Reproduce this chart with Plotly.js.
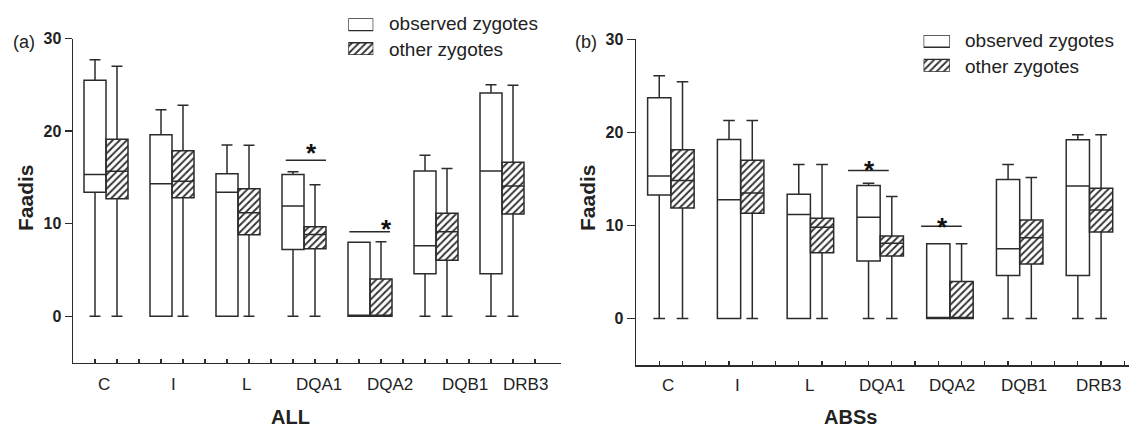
<!DOCTYPE html>
<html>
<head>
<meta charset="utf-8">
<script src="https://cdn.plot.ly/plotly-3.0.1.min.js"></script>
<style>html,body{margin:0;padding:0;background:#fff;}#chart{width:1129px;height:434px;}</style>
</head>
<body>
<div id="chart"></div>
<script>
// ---------- data ----------
const categories = ['C', 'I', 'L', 'DQA1', 'DQA2', 'DQB1', 'DRB3'];
const seriesNames = ['observed zygotes', 'other zygotes'];
const panelTitles = ['ALL', 'ABSs'];
const panelTags = ['(a)', '(b)'];
const yTickVals = [0, 10, 20, 30];

// Panel (a) ALL — observed zygotes
const allObsMin = [0, 0, 0, 0, 0, 0, 0];
const allObsQ1  = [13.4, 0, 0, 7.2, 0, 4.6, 4.6];
const allObsMed = [15.3, 14.3, 13.4, 11.9, 0, 7.6, 15.7];
const allObsQ3  = [25.5, 19.6, 15.4, 15.3, 8.0, 15.7, 24.1];
const allObsMax = [27.7, 22.3, 18.5, 15.6, 8.0, 17.4, 25.0];
// Panel (a) ALL — other zygotes
const allOthMin = [0, 0, 0, 0, 0, 0, 0];
const allOthQ1  = [12.7, 12.8, 8.8, 7.3, 0, 6.05, 11.05];
const allOthMed = [15.65, 14.57, 11.17, 8.84, 0, 9.13, 14.07];
const allOthQ3  = [19.13, 17.87, 13.77, 9.66, 4.02, 11.12, 16.62];
const allOthMax = [27.0, 22.8, 18.48, 14.21, 8.04, 15.96, 24.95];

// Panel (b) ABSs — observed zygotes
const absObsMin = [0, 0, 0, 0, 0, 0, 0];
const absObsQ1  = [13.28, 0, 0, 6.17, 0, 4.63, 4.63];
const absObsMed = [15.32, 12.77, 11.16, 10.87, 0, 7.5, 14.24];
const absObsQ3  = [23.72, 19.23, 13.35, 14.28, 8.04, 14.93, 19.2];
const absObsMax = [26.09, 21.28, 16.54, 14.53, 8.04, 16.54, 19.73];
// Panel (b) ABSs — other zygotes
const absOthMin = [0, 0, 0, 0, 0, 0, 0];
const absOthQ1  = [11.88, 11.3, 7.07, 6.71, 0, 5.85, 9.29];
const absOthMed = [14.82, 13.49, 9.8, 8.07, 0, 8.68, 11.66];
const absOthQ3  = [18.12, 17.0, 10.76, 8.86, 3.98, 10.58, 13.99];
const absOthMax = [25.44, 21.28, 16.54, 13.1, 8.04, 15.14, 19.73];

// significance bars (*)
const sigCategories = ['DQA1', 'DQA2'];
const sigLevelA = [16.86, 9.12];
const sigLevelB = [15.9, 9.9];

// ---------- build ----------
const FONT = 'Arial, "Liberation Sans", Helvetica, sans-serif';
const INK = '#2b2b2b';
const W = 1129, H = 434;
const px2x = p => p / W;
const px2y = p => 1 - p / H;

const obsPos = categories.map((c, i) => 3 * i + 1);
const othPos = categories.map((c, i) => 3 * i + 2);

function boxTrace(xa, ya, pos, q1, med, q3, lo, hi, fill) {
  return {
    type: 'box', xaxis: xa, yaxis: ya, x: pos,
    q1: q1, median: med, q3: q3, lowerfence: lo, upperfence: hi,
    width: 1, whiskerwidth: 0.5, boxpoints: false,
    fillcolor: fill, line: {color: INK, width: 1.5},
    showlegend: false, hoverinfo: 'skip'
  };
}
function hatchTrace(xa, ya, pos, q1, q3) {
  return {
    type: 'bar', xaxis: xa, yaxis: ya, x: pos,
    base: q1, y: q3.map((v, i) => v - q1[i]), width: 1,
    marker: {color: '#ffffff', line: {width: 0},
      pattern: {shape: '/', fgcolor: '#333333', bgcolor: '#ffffff', size: 5, solidity: 0.38}},
    showlegend: false, hoverinfo: 'skip'
  };
}
function legendTrace(xa, ya) {
  return {
    type: 'bar', orientation: 'h', xaxis: xa, yaxis: ya,
    y: [2.5, 0.5], x: [1, 1], width: 1, text: seriesNames, textposition: 'none',
    marker: {color: '#ffffff', line: {color: INK, width: 1.3},
      pattern: {shape: ['', '/'], fgcolor: '#333333', bgcolor: '#ffffff', size: 5, solidity: 0.38}},
    showlegend: false, hoverinfo: 'skip'
  };
}

const data = [
  hatchTrace('x', 'y', othPos, allOthQ1, allOthQ3),
  boxTrace('x', 'y', obsPos, allObsQ1, allObsMed, allObsQ3, allObsMin, allObsMax, '#ffffff'),
  boxTrace('x', 'y', othPos, allOthQ1, allOthMed, allOthQ3, allOthMin, allOthMax, 'rgba(0,0,0,0)'),
  hatchTrace('x2', 'y2', othPos, absOthQ1, absOthQ3),
  boxTrace('x2', 'y2', obsPos, absObsQ1, absObsMed, absObsQ3, absObsMin, absObsMax, '#ffffff'),
  boxTrace('x2', 'y2', othPos, absOthQ1, absOthMed, absOthQ3, absOthMin, absOthMax, 'rgba(0,0,0,0)'),
  legendTrace('x3', 'y3'),
  legendTrace('x4', 'y4')
];

function xAxis(domain, range, anchor) {
  return {
    domain: domain, range: range, anchor: anchor,
    showline: true, linecolor: INK, linewidth: 1.5,
    ticks: 'inside', ticklen: 4, tickwidth: 1.2, tickcolor: INK,
    tickmode: 'array', tickvals: Array.from({length: 21}, (v, i) => i + 1),
    showticklabels: false, showgrid: false, zeroline: false, fixedrange: true
  };
}
function yAxis(domain, anchor, len) {
  return {
    domain: domain, range: [-5, 30], anchor: anchor,
    showline: true, linecolor: INK, linewidth: 1.5,
    ticks: 'outside', ticklen: len, tickwidth: 1.2, tickcolor: INK,
    tickmode: 'array', tickvals: yTickVals, ticktext: yTickVals.map(String),
    tickfont: {family: FONT, size: 16, color: '#222', weight: 'bold'},
    showgrid: false, zeroline: false, fixedrange: true
  };
}
const hidden = (domain, range, anchor) => ({domain: domain, range: range, anchor: anchor, visible: false, fixedrange: true});

const labelOffA = [1.42, 4.55, 7.88, 11.2, 14.4, 17.8, 20.55];
const labelOffB = [1.36, 4.35, 7.47, 10.56, 13.58, 16.7, 19.9];

const annotations = [];
const shapes = [];
function catLabels(xref, offs, ypx) {
  categories.forEach((c, i) => annotations.push({
    xref: xref, yref: 'paper', x: offs[i], y: px2y(ypx), text: c, showarrow: false,
    xanchor: 'center', yanchor: 'middle', font: {family: FONT, size: 17, color: '#222'}
  }));
}
catLabels('x', labelOffA, 384);
catLabels('x2', labelOffB, 385);

function textAt(xpx, ypx, text, size, bold, anchor, angle) {
  annotations.push({xref: 'paper', yref: 'paper', x: px2x(xpx), y: px2y(ypx), text: text, showarrow: false,
    xanchor: anchor || 'center', yanchor: 'middle', textangle: angle || 0,
    font: {family: FONT, size: size, color: '#222', weight: bold ? 'bold' : 'normal'}});
}
textAt(11, 42, panelTags[0], 18, false, 'left');
textAt(573, 42, panelTags[1], 18, false, 'left');
textAt(25, 198, 'Faadis', 21, true, 'center', -90);
textAt(587, 198, 'Faadis', 21, true, 'center', -90);
textAt(290, 417, panelTitles[0], 20, true);
textAt(850, 417, panelTitles[1], 20, true);
// legend texts
textAt(387, 24, seriesNames[0], 19, false, 'left');
textAt(387, 49, seriesNames[1], 19, false, 'left');
textAt(963, 41, seriesNames[0], 19, false, 'left');
textAt(963, 66, seriesNames[1], 19, false, 'left');

// significance lines + stars
function sig(xref, yref, x0, x1, level, sx, sy) {
  shapes.push({type: 'line', xref: xref, yref: yref, x0: x0, x1: x1, y0: level, y1: level,
    line: {color: INK, width: 1.5}});
  annotations.push({xref: xref, yref: yref, x: sx, y: sy, text: '*', showarrow: false,
    xanchor: 'center', yanchor: 'middle', font: {family: FONT, size: 26, color: '#111', weight: 'bold'}});
}
const iA = categories.indexOf(sigCategories[0]), iB = categories.indexOf(sigCategories[1]);
sig('x', 'y', obsPos[iA] - 0.33, othPos[iA] + 0.5, sigLevelA[0], obsPos[iA] + 0.85, sigLevelA[0] + 0.8);
sig('x', 'y', obsPos[iB] - 0.44, othPos[iB] + 0.41, sigLevelA[1], othPos[iB] + 0.23, sigLevelA[1] + 0.3);
sig('x2', 'y2', obsPos[iA] - 0.88, othPos[iA] - 0.13, sigLevelB[0], obsPos[iA] + 0.02, sigLevelB[0] + 0.1);
sig('x2', 'y2', obsPos[iB] - 0.74, othPos[iB] + 0.01, sigLevelB[1], obsPos[iB] + 0.19, sigLevelB[1] - 0.1);

const layout = {
  width: W, height: H,
  margin: {l: 0, r: 0, t: 0, b: 0},
  paper_bgcolor: '#ffffff', plot_bgcolor: 'rgba(0,0,0,0)',
  showlegend: false, barmode: 'overlay', boxmode: 'overlay',
  font: {family: FONT, color: '#222'},
  xaxis: xAxis([px2x(73), px2x(561.4)], [0, 22.2], 'y'),
  yaxis: yAxis([px2y(362.5), px2y(38.5)], 'x', 7),
  xaxis2: xAxis([px2x(636), 1], [0, 21.2], 'y2'),
  yaxis2: yAxis([px2y(365), px2y(39.3)], 'x2', 8),
  xaxis3: hidden([px2x(348.3), px2x(373.3)], [0, 1], 'y3'),
  yaxis3: hidden([px2y(55), px2y(18.3)], [0, 3], 'x3'),
  xaxis4: hidden([px2x(923.6), px2x(949.9)], [0, 1], 'y4'),
  yaxis4: hidden([px2y(71.7), px2y(35)], [0, 3], 'x4'),
  annotations: annotations,
  shapes: shapes
};

Plotly.newPlot('chart', data, layout, {displayModeBar: false, staticPlot: true});
</script>
</body>
</html>
